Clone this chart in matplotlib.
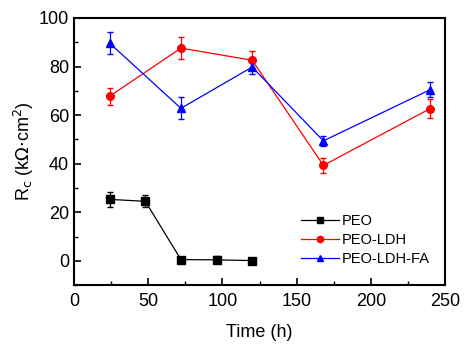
import matplotlib
matplotlib.use("Agg")
import matplotlib.pyplot as plt
from matplotlib.lines import Line2D
from matplotlib.ticker import MultipleLocator

plt.rcParams["font.family"] = ["Liberation Sans", "DejaVu Sans"]

# data
peo_t = [24, 48, 72, 96, 120]
peo_rc = [25.3, 24.5, 0.5, 0.4, 0.1]
peo_err = [3.0, 2.5, 0.6, 1.5, 0.4]

ldh_t = [24, 72, 120, 168, 240]
ldh_rc = [67.8, 87.6, 82.6, 39.3, 62.7]
ldh_err = [3.5, 4.5, 4.0, 3.0, 4.0]

fa_t = [24, 72, 120, 168, 240]
fa_rc = [89.6, 62.8, 79.8, 49.4, 70.5]
fa_err = [4.5, 4.5, 3.0, 2.0, 3.0]

fig = plt.figure(figsize=(4.69, 3.46), dpi=100)
ax = fig.add_axes([0.158, 0.176, 0.791, 0.772])

series = [
    (peo_t, peo_rc, peo_err, "black", "s", "PEO"),
    (ldh_t, ldh_rc, ldh_err, "red", "o", "PEO-LDH"),
    (fa_t, fa_rc, fa_err, "blue", "^", "PEO-LDH-FA"),
]
handles = []
for t, rc, err, color, marker, label in series:
    ax.errorbar(t, rc, yerr=err, color=color, marker=marker, markersize=5.5,
                linewidth=0.9, elinewidth=0.9, capsize=2.5)
    handles.append(Line2D([], [], color=color, marker=marker, markersize=4.5,
                          linewidth=0.9, label=label))

ax.set_xlim(0, 250)
ax.set_ylim(-10, 100)
ax.xaxis.set_major_locator(MultipleLocator(50))
ax.xaxis.set_minor_locator(MultipleLocator(25))
ax.yaxis.set_major_locator(MultipleLocator(20))
ax.yaxis.set_minor_locator(MultipleLocator(10))
ax.tick_params(which="both", direction="in", labelsize=13)
ax.tick_params(which="major", length=5, width=1.2)
ax.tick_params(which="minor", length=3, width=1.0)
ax.tick_params(axis="x", pad=6)
for s in ax.spines.values():
    s.set_linewidth(1.5)

ax.set_xlabel("Time (h)", fontsize=13, labelpad=10)
ax.set_ylabel(r"R$_\mathrm{c}$ (k$\Omega$$\cdot$cm$^2$)", fontsize=13, labelpad=2)

ax.legend(handles=handles, loc="lower right", frameon=False, fontsize=10.5,
          handlelength=2.6, handletextpad=0.2, labelspacing=0.35,
          borderaxespad=0.0, bbox_to_anchor=(0.975, 0.05))

fig.savefig("out.png", dpi=100)
